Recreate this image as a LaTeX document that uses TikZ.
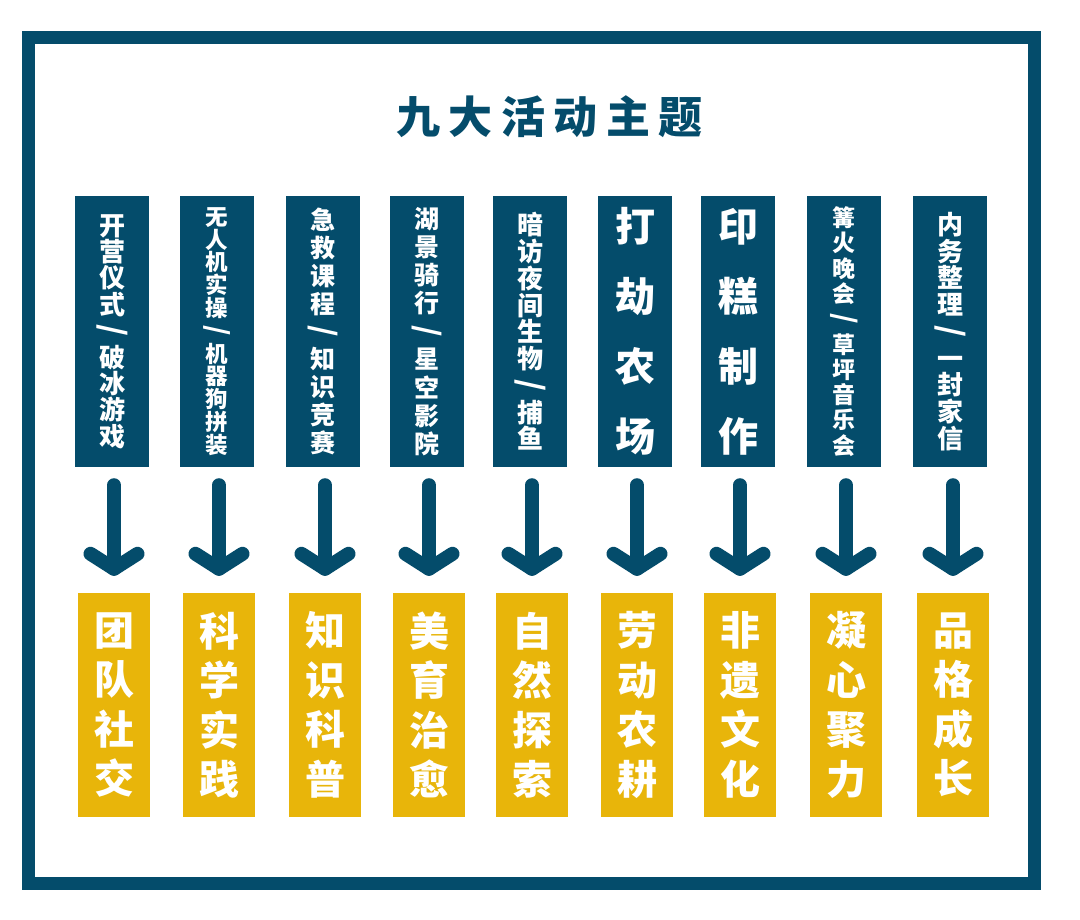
\documentclass[tikz,border=0pt]{standalone}
\usepackage{fontspec}
\usepackage{graphicx}
\usetikzlibrary{calc}
\newfontfamily\cjk{Noto Sans CJK SC}[BoldFont={Noto Sans CJK SC Black}]
\definecolor{fblue}{HTML}{044C6B}
\definecolor{fyellow}{HTML}{E8B50A}
\newcommand{\vsl}{\smash{\scalebox{1.2}{\rotatebox[origin=c]{-90}{/}}}}
\newcommand{\topfont}[2]{\cjk\bfseries\fontsize{#1}{#2}\selectfont}
\begin{document}
\begin{tikzpicture}[x=1pt,y=-1pt,
  topbox/.style={fill=fblue, minimum width=74pt, minimum height=271pt, inner sep=0pt, text=white, align=center},
  botbox/.style={fill=fyellow, minimum width=72pt, minimum height=224pt, inner sep=0pt, text=white, align=center, font={\cjk\bfseries\fontsize{40}{49.5}\selectfont}},
  flow/.style={draw=fblue, line width=14pt, line cap=round, line join=round}]
\useasboundingbox (0,0) rectangle (1080,920);
\fill[white] (0,0) rectangle (1080,920);
\draw[fblue, line width=13pt] (28.5,37.5) rectangle (1034.5,883.5);

\node[text=fblue, font={\cjk\bfseries\fontsize{44}{50}\selectfont}] (title) at (549.5,117)
  {九\kern8.6pt 大\kern8.6pt 活\kern8.6pt 动\kern8.6pt 主\kern8.6pt 题};

% top boxes
\node[topbox, font={\topfont{26}{26.4}}] (t1) at (112,331.5) {开\\营\\仪\\式\\\vsl\\破\\冰\\游\\戏};
\node[topbox, font={\topfont{22.5}{22.8}}] (t2) at (217,331.5) {无\\人\\机\\实\\操\\\vsl\\机\\器\\狗\\拼\\装};
\node[topbox, font={\topfont{25}{27.9}}] (t3) at (323,331.5) {急\\救\\课\\程\\\vsl\\知\\识\\竞\\赛};
\node[topbox, font={\topfont{25}{28.1}}] (t4) at (427,331.5) {湖\\景\\骑\\行\\\vsl\\星\\空\\影\\院};
\node[topbox, font={\topfont{26}{26.75}}] (t5) at (530,331.5) {暗\\访\\夜\\间\\生\\物\\\vsl\\捕\\鱼};
\node[topbox, font={\topfont{40}{70}}] (t6) at (635,331.5) {打\\劫\\农\\场};
\node[topbox, font={\topfont{40}{70}}] (t7) at (738,331.5) {印\\糕\\制\\作};
\node[topbox, font={\topfont{23}{25.3}}] (t8) at (844,331.5) {篝\\火\\晚\\会\\\vsl\\草\\坪\\音\\乐\\会};
\node[topbox, font={\topfont{26}{26.75}}] (t9) at (950,331.5) {内\\务\\整\\理\\\vsl\\一\\封\\家\\信};

% bottom boxes
\node[botbox] (b1) at (114,705) {团\\队\\社\\交};
\node[botbox] (b2) at (219,705) {科\\学\\实\\践};
\node[botbox] (b3) at (325,705) {知\\识\\科\\普};
\node[botbox] (b4) at (429,705) {美\\育\\治\\愈};
\node[botbox] (b5) at (532,705) {自\\然\\探\\索};
\node[botbox] (b6) at (637,705) {劳\\动\\农\\耕};
\node[botbox] (b7) at (740,705) {非\\遗\\文\\化};
\node[botbox] (b8) at (846,705) {凝\\心\\聚\\力};
\node[botbox] (b9) at (953,705) {品\\格\\成\\长};

% arrows
\foreach \i in {1,...,9}{
  \draw[flow] ($(b\i.north |- t\i.south)+(0,18)$) -- ($(b\i.north)+(0,-24)$);
  \draw[flow] ($(b\i.north)+(-23.5,-39)$) -- ($(b\i.north)+(0,-24)$) -- ($(b\i.north)+(23.5,-39)$);
}
\end{tikzpicture}
\end{document}
